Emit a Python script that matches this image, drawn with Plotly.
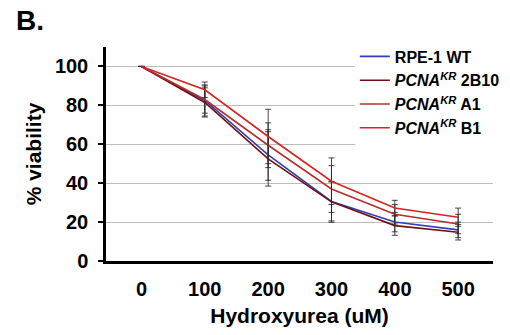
import plotly.graph_objects as go

doses = [0, 100, 200, 300, 400, 500]
dose_labels = ["0", "100", "200", "300", "400", "500"]

names = ["RPE-1 WT",
         "<i>PCNA</i><sup><i>KR</i></sup> 2B10",
         "<i>PCNA</i><sup><i>KR</i></sup> A1",
         "<i>PCNA</i><sup><i>KR</i></sup> B1"]
colors = ["#3340b4", "#6e1016", "#b3302e", "#d8231f"]

wt      = [100, 82.5, 54.5, 30.6, 20.0, 16.0]
kr_2b10 = [100, 81.5, 52.5, 30.4, 18.2, 14.8]
kr_a1   = [100, 83.0, 59.5, 37.0, 24.0, 19.0]
kr_b1   = [100, 88.0, 64.0, 41.0, 27.2, 22.5]

wt_err      = [0, 8.0, 13.0, 10.0, 5.0, 4.0]
kr_2b10_err = [0, 7.5, 14.0, 10.5, 5.0, 4.0]
kr_a1_err   = [0, 7.0, 11.5, 12.0, 5.0, 5.0]
kr_b1_err   = [0, 4.0, 14.0, 12.0, 4.0, 4.7]

series = [wt, kr_2b10, kr_a1, kr_b1]
errors = [wt_err, kr_2b10_err, kr_a1_err, kr_b1_err]

fig = go.Figure()
for name, col, ys, es in zip(names, colors, series, errors):
    fig.add_trace(go.Scatter(
        x=doses, y=ys, name=name, mode="lines",
        line=dict(color=col, width=1.6),
        error_y=dict(type="data", array=es, visible=True,
                     color="rgba(40,40,40,0.85)", thickness=1, width=3),
    ))

font_family = "Liberation Sans, Arial, sans-serif"

# the page body has an 8px margin, so the plot area is offset to compensate
fig.update_layout(
    width=502, height=327,
    margin=dict(l=98, r=17, t=39, b=74, autoexpand=False),
    paper_bgcolor="white", plot_bgcolor="white",
    font=dict(family=font_family, color="black"),
    showlegend=True,
    legend=dict(x=0.643, xanchor="left", y=1.035, yanchor="top",
                bgcolor="white", borderwidth=0,
                font=dict(size=16, weight="bold", family=font_family),
                itemwidth=30, tracegroupgap=0),
    xaxis=dict(range=[-56, 555], tickvals=doses, ticktext=dose_labels,
               automargin=False,
               showgrid=False, zeroline=False,
               showline=True, linecolor="black", linewidth=2.5,
               ticks="", ticklabelstandoff=8,
               tickfont=dict(size=20, weight="bold"),
               title=dict(text="Hydroxyurea (uM)", standoff=10,
                          font=dict(size=21, weight="bold"))),
    yaxis=dict(range=[0, 110], tickvals=[0, 20, 40, 60, 80, 100],
               automargin=False,
               showgrid=True, gridcolor="#bdbdbd", gridwidth=1,
               zeroline=False,
               showline=True, linecolor="black", linewidth=2.5,
               ticks="outside", ticklen=5, tickwidth=1.5, tickcolor="black",
               ticklabelstandoff=6,
               tickfont=dict(size=20, weight="bold"),
               title=dict(text="% viability", standoff=8,
                          font=dict(size=21, weight="bold"))),
    annotations=[dict(text="B.", x=-0.238, y=1.126, xref="paper", yref="paper",
                      xanchor="left", yanchor="middle",
                      showarrow=False, font=dict(size=28, weight="bold"))],
)

fig.write_html("out.html")
